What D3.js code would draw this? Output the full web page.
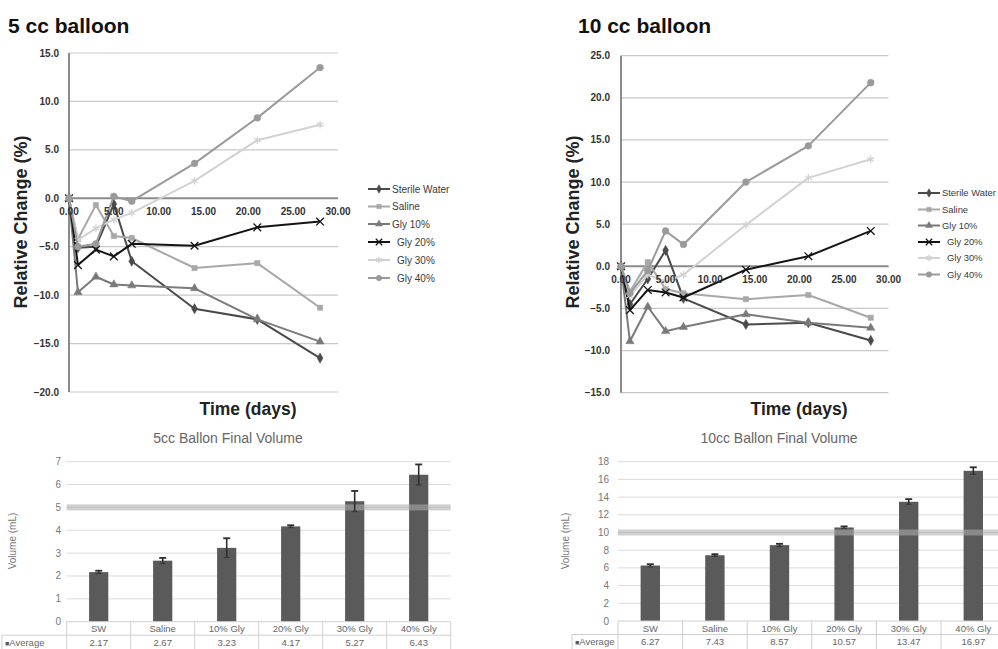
<!DOCTYPE html>
<html><head><meta charset="utf-8">
<script src="https://cdn.jsdelivr.net/npm/d3@7"></script>
<style>
html,body{margin:0;padding:0;background:#fff;overflow:hidden}
svg{display:block;font-family:"Liberation Sans",Arial,sans-serif}
</style></head><body>
<svg id="c" width="998" height="649"></svg>
<script>
// ---------- DATA ----------
const days = [0, 1, 3, 5, 7, 14, 21, 28];
const seriesNames = ["Sterile Water", "Saline", "Gly 10%", "Gly 20%", "Gly 30%", "Gly 40%"];

// 5 cc balloon, relative change (%)
const cc5SterileWater = [0, -5.1, -5.0, -0.6, -6.5, -11.4, -12.5, -16.5];
const cc5Saline       = [0, -4.2, -0.7, -3.9, -4.1, -7.2, -6.7, -11.3];
const cc5Gly10        = [0, -9.7, -8.1, -8.9, -9.0, -9.3, -12.5, -14.8];
const cc5Gly20        = [0, -6.9, -5.3, -6.0, -4.7, -4.9, -3.0, -2.4];
const cc5Gly30        = [0, -4.3, -3.1, -2.2, -1.5, 1.8, 6.0, 7.6];
const cc5Gly40        = [0, -5.0, -4.7, 0.2, -0.3, 3.6, 8.3, 13.5];

// 10 cc balloon, relative change (%)
const cc10SterileWater = [0, -4.5, -1.5, 1.9, -3.8, -6.9, -6.7, -8.8];
const cc10Saline       = [0, -3.0, 0.5, -2.7, -3.2, -3.9, -3.4, -6.1];
const cc10Gly10        = [0, -8.9, -4.8, -7.7, -7.2, -5.7, -6.7, -7.3];
const cc10Gly20        = [0, -5.2, -2.8, -3.1, -3.7, -0.4, 1.2, 4.2];
const cc10Gly30        = [0, -3.5, -1.0, -1.8, -1.0, 4.9, 10.5, 12.7];
const cc10Gly40        = [0, -3.2, -0.5, 4.2, 2.6, 10.0, 14.3, 21.8];

const xTickValues = [0, 5, 10, 15, 20, 25, 30];
const yTicks5cc = [15, 10, 5, 0, -5, -10, -15, -20];
const yTicks10cc = [25, 20, 15, 10, 5, 0, -5, -10, -15];

// Final volume bar charts
const barCategories = ["SW", "Saline", "10% Gly", "20% Gly", "30% Gly", "40% Gly"];
const avg5cc  = [2.17, 2.67, 3.23, 4.17, 5.27, 6.43];
const err5cc  = [0.06, 0.12, 0.42, 0.05, 0.45, 0.45];
const avg10cc = [6.27, 7.43, 8.57, 10.57, 13.47, 16.97];
const err10cc = [0.15, 0.12, 0.15, 0.12, 0.3, 0.4];
const barTicks5cc  = [0, 1, 2, 3, 4, 5, 6, 7];
const barTicks10cc = [0, 2, 4, 6, 8, 10, 12, 14, 16, 18];
const nominal5cc = 5;
const nominal10cc = 10;

// ---------- DRAW ----------
const svg = d3.select("#c");
svg.append("rect").attr("width", 998).attr("height", 649).attr("fill", "#fff");

const styles = [
  {color: "#4a4a4a", sym: d3.symbolDiamond, size: 30, stroke: false},
  {color: "#a8a8a8", sym: d3.symbolSquare, size: 28, stroke: false},
  {color: "#7a7a7a", sym: d3.symbolTriangle, size: 30, stroke: false},
  {color: "#141414", sym: d3.symbolX, size: 40, stroke: true},
  {color: "#d2d2d2", sym: d3.symbolAsterisk, size: 40, stroke: true},
  {color: "#9a9a9a", sym: d3.symbolCircle, size: 36, stroke: false}
];

function lineChart(o) {
  const g = svg.append("g");
  const {x, y} = o;
  const [x0, x1] = x.range();
  g.selectAll(".grid").data(o.yTicks.filter(d => d !== 0)).join("line")
    .attr("x1", x0).attr("x2", x1)
    .attr("y1", d => y(d)).attr("y2", d => y(d))
    .attr("stroke", "#c8c8c8").attr("stroke-width", 1.2);
  g.selectAll(".yl").data(o.yTicks).join("text")
    .attr("x", o.yLabelX).attr("y", d => y(d)).attr("dy", "0.35em")
    .attr("text-anchor", "end").attr("font-size", 10).attr("font-weight", "bold")
    .attr("fill", "#333").text(d => d3.format(".1f")(d));
  g.append("line").attr("x1", x0).attr("x2", x1).attr("y1", y(0)).attr("y2", y(0))
    .attr("stroke", "#8a8a8a").attr("stroke-width", 2);
  g.append("line").attr("x1", x(0)).attr("x2", x(0)).attr("y1", y.range()[1]).attr("y2", y.range()[0])
    .attr("stroke", "#8a8a8a").attr("stroke-width", 2);
  const line = d3.line().x(d => x(d.t)).y(d => y(d.v));
  o.series.forEach((vals, i) => {
    const st = styles[i];
    const pts = days.map((t, j) => ({t, v: vals[j]}));
    g.append("path").datum(pts).attr("d", line).attr("fill", "none")
      .attr("stroke", st.color).attr("stroke-width", 2).attr("stroke-linejoin", "round");
    g.selectAll(null).data(pts).join("path")
      .attr("transform", d => `translate(${x(d.t)},${y(d.v)})`)
      .attr("d", d3.symbol(st.sym, st.size))
      .attr("fill", st.stroke ? "none" : st.color)
      .attr("stroke", st.color).attr("stroke-width", st.stroke ? 1.3 : 0.5);
  });
  g.selectAll(".xl").data(xTickValues).join("text")
    .attr("x", d => x(d)).attr("y", y(0) + 17)
    .attr("text-anchor", "middle").attr("font-size", 10).attr("font-weight", "bold")
    .attr("fill", "#333").text(d => d3.format(".2f")(d));
  g.append("text").attr("x", o.titleX).attr("y", 33).attr("font-size", 21).attr("font-weight", "bold")
    .attr("fill", "#111").text(o.title);
  g.append("text").attr("transform", `translate(${o.yTitleX},${o.yTitleY}) rotate(-90)`)
    .attr("text-anchor", "middle").attr("font-size", 18).attr("font-weight", "bold")
    .attr("fill", "#222").text("Relative Change (%)");
  g.append("text").attr("x", o.xTitleX).attr("y", 415).attr("text-anchor", "middle")
    .attr("font-size", 17.5).attr("font-weight", "bold").attr("fill", "#222").text("Time (days)");
  seriesNames.forEach((name, i) => {
    const st = styles[i];
    const ly = o.legendY[i];
    const lg = g.append("g");
    lg.append("line").attr("x1", o.legendX).attr("x2", o.legendX + 22).attr("y1", ly).attr("y2", ly)
      .attr("stroke", st.color).attr("stroke-width", 2);
    lg.append("path").attr("transform", `translate(${o.legendX + 11},${ly})`)
      .attr("d", d3.symbol(st.sym, st.size * 0.7))
      .attr("fill", st.stroke ? "none" : st.color).attr("stroke", st.color)
      .attr("stroke-width", st.stroke ? 1.3 : 0.5);
    lg.append("text").attr("x", o.legendX + (i < 3 ? 24 : 29)).attr("y", ly).attr("dy", "0.35em")
      .attr("font-size", o.legendFont).attr("fill", "#3a3a3a").text(name);
  });
}

lineChart({
  x: d3.scaleLinear([0, 30], [69, 338]),
  y: d3.scaleLinear([-20, 15], [392, 53]),
  yTicks: yTicks5cc, yLabelX: 59,
  series: [cc5SterileWater, cc5Saline, cc5Gly10, cc5Gly20, cc5Gly30, cc5Gly40],
  title: "5 cc balloon", titleX: 8,
  yTitleX: 27, yTitleY: 222, xTitleX: 248,
  legendX: 368, legendY: [189, 206.5, 224, 242, 260, 278], legendFont: 10
});
lineChart({
  x: d3.scaleLinear([0, 30], [621, 888.6]),
  y: d3.scaleLinear([-15, 25], [392.7, 55.7]),
  yTicks: yTicks10cc, yLabelX: 610,
  series: [cc10SterileWater, cc10Saline, cc10Gly10, cc10Gly20, cc10Gly30, cc10Gly40],
  title: "10 cc balloon", titleX: 578,
  yTitleX: 579, yTitleY: 222, xTitleX: 799,
  legendX: 918, legendY: [193, 209.5, 225.5, 242, 258, 274.5], legendFont: 9.4
});

function barChart(o) {
  const g = svg.append("g");
  const x = d3.scaleBand(barCategories, o.xRange).paddingInner(0.7).paddingOuter(0.35);
  const y = o.y;
  const [x0, x1] = o.xRange;
  g.selectAll(".grid").data(o.ticks.filter(d => d !== 0)).join("line")
    .attr("x1", x0).attr("x2", x1).attr("y1", d => y(d)).attr("y2", d => y(d))
    .attr("stroke", "#dadada").attr("stroke-width", 1);
  g.selectAll(".yl").data(o.ticks).join("text")
    .attr("x", o.yLabelX).attr("y", d => y(d)).attr("dy", "0.35em").attr("text-anchor", "end")
    .attr("font-size", 10).attr("fill", "#777").text(d => d);
  const data = barCategories.map((c, i) => ({c, v: o.avg[i], e: o.err[i]}));
  g.selectAll(".bar").data(data).join("rect")
    .attr("x", d => x(d.c)).attr("width", x.bandwidth())
    .attr("y", d => y(d.v)).attr("height", d => y(0) - y(d.v))
    .attr("fill", "#5a5a5a");
  g.append("rect").attr("x", x0).attr("width", x1 - x0)
    .attr("y", y(o.nominal) - 3).attr("height", 6)
    .attr("fill", "#aeaeae").attr("opacity", 0.58);
  const eb = g.selectAll(".eb").data(data).join("g")
    .attr("transform", d => `translate(${x(d.c) + x.bandwidth() / 2},0)`);
  eb.append("line").attr("y1", d => y(d.v - d.e)).attr("y2", d => y(d.v + d.e))
    .attr("stroke", "#2e2e2e").attr("stroke-width", 1.6);
  eb.append("line").attr("x1", -3.5).attr("x2", 3.5).attr("y1", d => y(d.v + d.e)).attr("y2", d => y(d.v + d.e))
    .attr("stroke", "#2e2e2e").attr("stroke-width", 1.8);
  eb.append("line").attr("x1", -3).attr("x2", 3).attr("y1", d => y(d.v - d.e)).attr("y2", d => y(d.v - d.e))
    .attr("stroke", "#3a3a3a").attr("stroke-width", 1.2);
  const y0 = y(0), yMid = y0 + 13.5, yBot = 652;
  const tcol = "#cfcfcf";
  g.append("line").attr("x1", x0).attr("x2", x1).attr("y1", y0).attr("y2", y0).attr("stroke", tcol);
  g.append("line").attr("x1", o.tableLeft).attr("x2", x1).attr("y1", yMid).attr("y2", yMid).attr("stroke", tcol);
  g.append("line").attr("x1", o.tableLeft).attr("x2", o.tableLeft).attr("y1", yMid).attr("y2", yBot).attr("stroke", tcol);
  g.selectAll(".vl").data(d3.range(barCategories.length + 1)).join("line")
    .attr("x1", i => x0 + i * (x1 - x0) / barCategories.length).attr("x2", i => x0 + i * (x1 - x0) / barCategories.length)
    .attr("y1", y0).attr("y2", yBot).attr("stroke", tcol);
  g.selectAll(".cat").data(data).join("text")
    .attr("x", d => x(d.c) + x.bandwidth() / 2).attr("y", y0 + 10.5).attr("text-anchor", "middle")
    .attr("font-size", 9.5).attr("fill", "#666").text(d => d.c);
  g.selectAll(".val").data(data).join("text")
    .attr("x", d => x(d.c) + x.bandwidth() / 2).attr("y", yMid + 10.5).attr("text-anchor", "middle")
    .attr("font-size", 9.5).attr("fill", "#666").text(d => d3.format(".2f")(d.v));
  const lt = g.append("text").attr("x", o.tableLeft + 3).attr("y", yMid + 10.5).attr("font-size", 9.5).attr("fill", "#666");
  lt.append("tspan").attr("fill", "#5a5a5a").attr("font-size", 7).text("■");
  lt.append("tspan").text("Average");
  g.append("text").attr("x", o.titleX).attr("y", 443).attr("text-anchor", "middle")
    .attr("font-size", 14).attr("fill", "#666").text(o.title);
  g.append("text").attr("transform", `translate(${o.yTitleX},541) rotate(-90)`)
    .attr("text-anchor", "middle").attr("font-size", 10).attr("fill", "#777").text("Volume (mL)");
}

barChart({
  xRange: [66.7, 450.7], y: d3.scaleLinear([0, 7], [621.7, 461.7]),
  ticks: barTicks5cc, avg: avg5cc, err: err5cc, nominal: nominal5cc,
  yLabelX: 61, tableLeft: 2, title: "5cc Ballon Final Volume", titleX: 228, yTitleX: 16
});
barChart({
  xRange: [618, 1005.6], y: d3.scaleLinear([0, 18], [621, 461.7]),
  ticks: barTicks10cc, avg: avg10cc, err: err10cc, nominal: nominal10cc,
  yLabelX: 609, tableLeft: 572, title: "10cc Ballon Final Volume", titleX: 779, yTitleX: 569
});
</script>
</body></html>
